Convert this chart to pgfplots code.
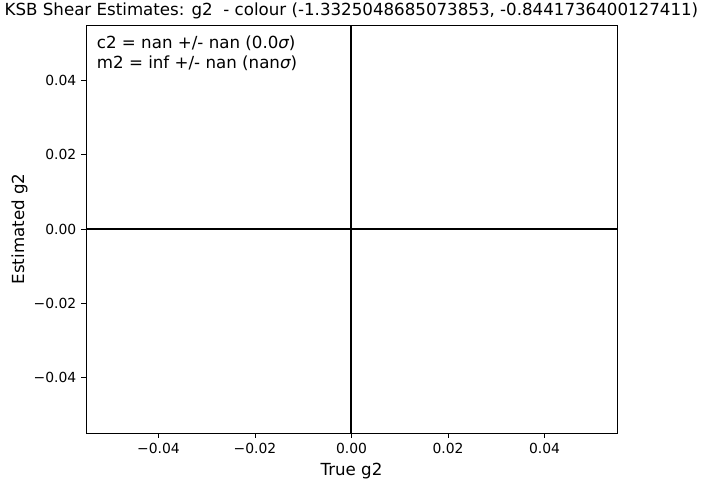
\documentclass[border=0pt]{standalone}
\usepackage{fontspec}
\setmainfont{DejaVu Sans}
\usepackage{pgfplots}
\pgfplotsset{compat=1.18}

\begin{document}
\begin{tikzpicture}
\useasboundingbox (-61.92pt,-35.28pt) rectangle (443.52pt,311.76pt);
\begin{axis}[
    scale only axis,
    width=382.3pt,
    height=293.8pt,
    at={(0,0)}, anchor=south west,
    xmin=-0.055, xmax=0.055,
    ymin=-0.055, ymax=0.055,
    scaled ticks=false,
    axis line style={line width=0.6pt},
    xtick={-0.04,-0.02,0,0.02,0.04},
    ytick={-0.04,-0.02,0,0.02,0.04},
    xticklabels={−0.04,−0.02,0.00,0.02,0.04},
    yticklabels={−0.04,−0.02,0.00,0.02,0.04},
    tick align=outside,
    tick pos=left,
    major tick length=3.5pt,
    tick style={line width=0.6pt, black},
    tick label style={font=\fontsize{10}{12}\selectfont},
    xlabel={True g2},
    ylabel={Estimated g2},
    label style={font=\fontsize{12}{14}\selectfont},
    ylabel style={yshift=-2.5pt},
    title={KSB Shear Estimates: g2\ \ - colour (-1.3325048685073853, -0.8441736400127411)},
    title style={font=\fontsize{12}{14}\selectfont, yshift=-5.5pt},
    clip=false,
]
\addplot[black, line width=1.1pt] coordinates {(-0.055,0) (0.055,0)};
\addplot[black, line width=1.5pt] coordinates {(-0.0001,-0.055) (-0.0001,0.055)};
\node[anchor=north west, inner sep=0pt, align=left, font=\fontsize{12}{15}\selectfont]
    at (rel axis cs:0.02,0.975)
    {c2 = nan +/- nan (0.0{\itshape σ})\\m2 = inf +/- nan (nan{\itshape σ})};
\end{axis}
\end{tikzpicture}
\end{document}
